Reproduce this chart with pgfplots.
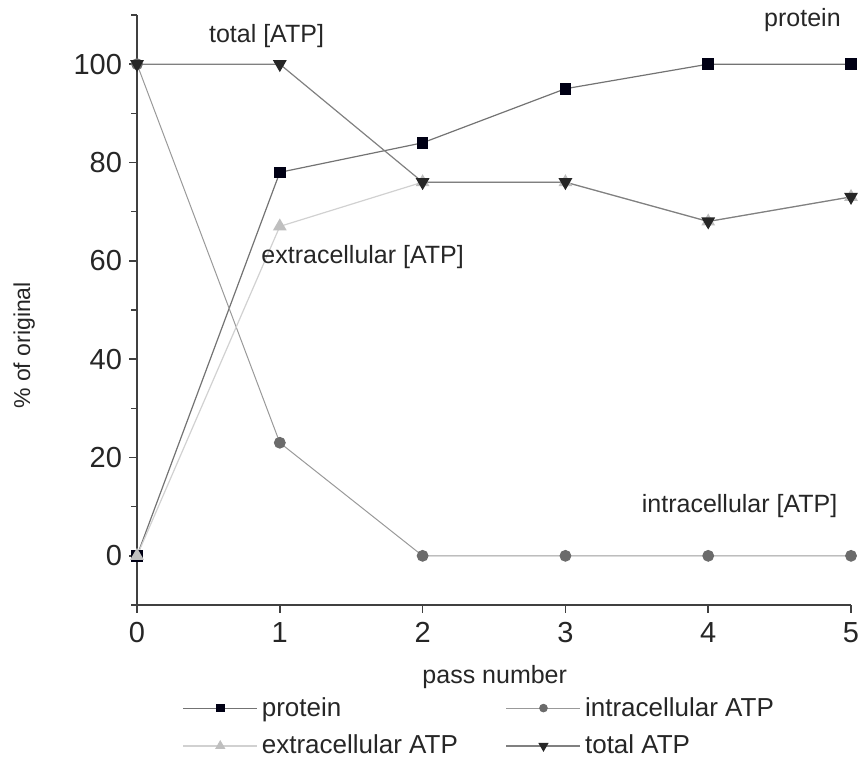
\documentclass[border=0pt]{standalone}
\usepackage{pgfplots}
\pgfplotsset{compat=1.18}
\usepackage{fontspec}
\setmainfont{Liberation Sans}
\definecolor{axgray}{HTML}{404040}
\begin{document}
\begin{tikzpicture}
\begin{axis}[
  scale only axis,
  width=357pt, height=295pt,
  xmin=0, xmax=5, ymin=-10, ymax=110,
  axis x line*=bottom, axis y line*=left,
  axis line style={axgray, line width=0.9pt},
  xtick={0,1,2,3,4,5},
  ytick={0,20,40,60,80,100},
  minor ytick={-10,10,30,50,70,90,110},
  tick align=outside,
  major tick length=4pt, minor tick length=3pt,
  tick style={axgray, line width=0.8pt},
  /pgf/number format/assume math mode=true,
  ticklabel style={font=\fontsize{14.5}{16}\selectfont, text=black!85},
  xticklabel style={yshift=-1pt},
  xlabel={pass number},
  ylabel={\% of original},
  xlabel style={at={(axis description cs:0.501,-0.122)}, anchor=center, font=\fontsize{12.5}{14}\selectfont, text=black!85},
  ylabel style={at={(axis description cs:-0.158,0.44)}, anchor=center, font=\fontsize{11.5}{13}\selectfont, text=black!85},
  clip=false,
  legend columns=2,
  legend style={draw=none, fill=none, at={(axis description cs:0.055,-0.142)}, anchor=north west,
    font=\fontsize{13}{15}\selectfont, text=black!85,
    /tikz/every even column/.append style={column sep=22pt},
    row sep=4pt},
  legend cell align=left,
  legend image code/.code={\draw[mark repeat=2,mark phase=2, every mark/.append style={scale=0.7}] plot coordinates {(0cm,0cm) (0.65cm,0cm) (1.3cm,0cm)};},
]
\addplot[color=black!55, line width=0.6pt, mark=square*, mark size=2.6pt, mark options={fill=black!92!blue, draw=black!92!blue}]
  coordinates {(0,0) (1,78) (2,84) (3,95) (4,100) (5,100)};
\addlegendentry{protein}
\addplot[color=black!40, line width=0.5pt, mark=*, mark size=2.7pt, mark options={fill=black!58, draw=black!58}]
  coordinates {(0,100) (1,23) (2,0) (3,0) (4,0) (5,0)};
\addlegendentry{intracellular ATP}
\addplot[color=black!18, line width=0.6pt, mark=triangle*, mark size=3.4pt, mark options={fill=black!25, draw=black!25}]
  coordinates {(0,0) (1,67) (2,76) (3,76) (4,68) (5,73)};
\addlegendentry{extracellular ATP}
\addplot[color=black!50, line width=0.6pt, mark=triangle*, mark size=3.4pt, mark options={fill=black!85, draw=black!85, rotate=180}]
  coordinates {(0,100) (1,100) (2,76) (3,76) (4,68) (5,73)};
\addlegendentry{total ATP}
\node[font=\fontsize{12.5}{14}\selectfont, text=black!85] at (axis cs:0.907,105.7) {total [ATP]};
\node[font=\fontsize{12.5}{14}\selectfont, text=black!85] at (axis cs:4.66,109) {protein};
\node[font=\fontsize{12.5}{14}\selectfont, text=black!85] at (axis cs:1.58,60.7) {extracellular [ATP]};
\node[font=\fontsize{12.5}{14}\selectfont, text=black!85] at (axis cs:4.22,10.2) {intracellular [ATP]};
\coordinate (bl) at (rel axis cs:-0.1919,-0.2695);
\coordinate (tr) at (rel axis cs:1.0182,1.0254);
\end{axis}
\pgfresetboundingbox
\path (bl) rectangle (tr);
\end{tikzpicture}
\end{document}
